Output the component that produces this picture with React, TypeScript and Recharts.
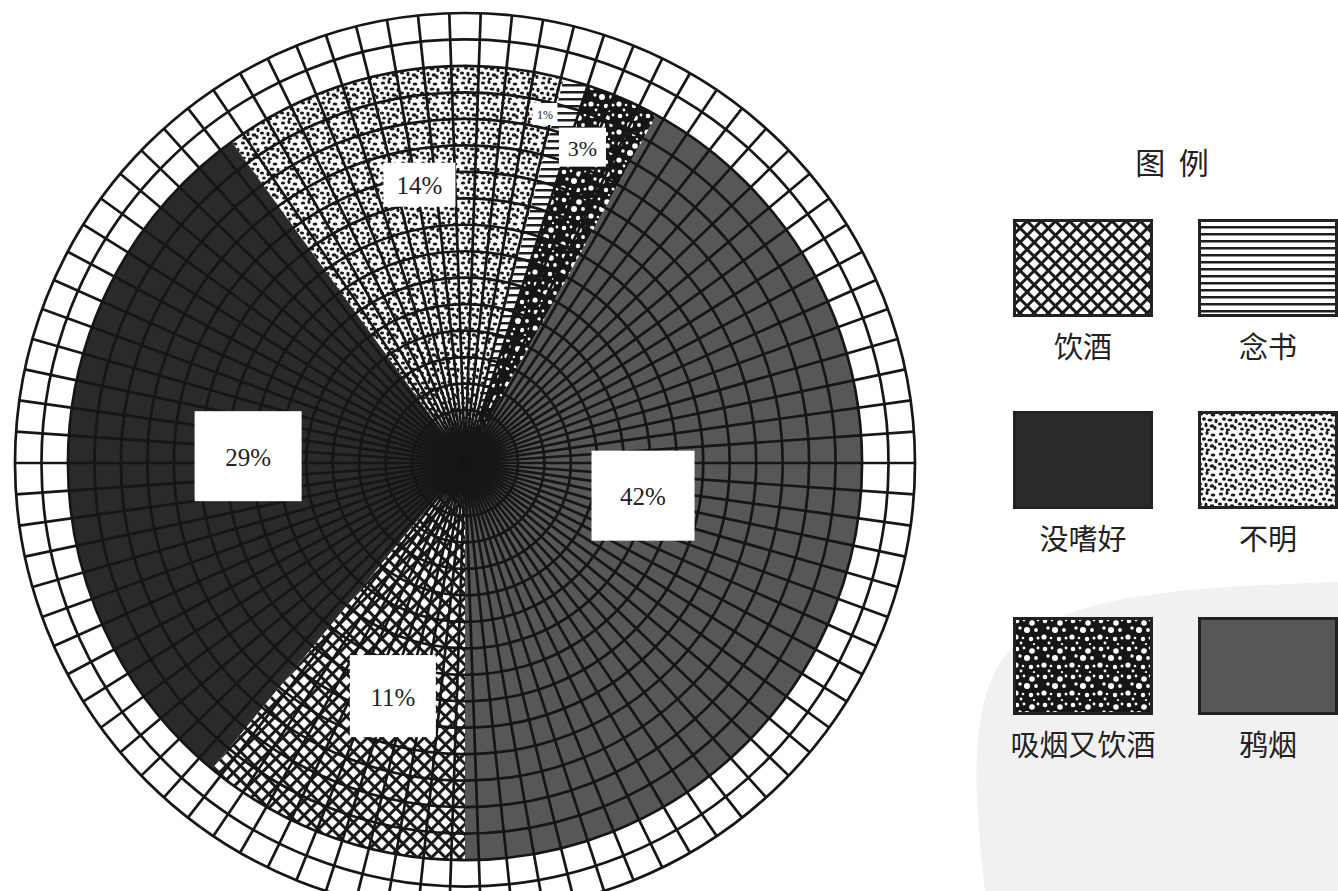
import { PieChart, Pie, Cell, PolarGrid, Legend } from 'recharts';

// 嗜好分布（%）
const categories = ['鸦烟', '吸烟又饮酒', '念书', '不明', '没嗜好', '饮酒'];
const shares = [42, 3, 1, 14, 29, 11];
const legendOrder = ['饮酒', '念书', '没嗜好', '不明', '吸烟又饮酒', '鸦烟'];

const data = categories.map((name, i) => ({ name, value: shares[i] }));

const fills: { [key: string]: string } = {
  '鸦烟': '#575757',
  '吸烟又饮酒': 'url(#pat-bubbles)',
  '念书': 'url(#pat-lines)',
  '不明': 'url(#pat-speckle)',
  '没嗜好': '#2a2a2a',
  '饮酒': 'url(#pat-cross)',
};

// label boxes: radius from centre, angle nudge, box size, font size
const labelBoxes: { [key: string]: { r: number; da: number; w: number; h: number; fs: number } } = {
  '鸦烟': { r: 181, da: 4, w: 103, h: 90, fs: 25 },
  '吸烟又饮酒': { r: 337, da: 3, w: 47, h: 39, fs: 22 },
  '念书': { r: 358, da: 3.3, w: 25, h: 22, fs: 12 },
  '不明': { r: 282, da: -1.5, w: 72, h: 44, fs: 25 },
  '没嗜好': { r: 217, da: 0, w: 107, h: 90, fs: 25 },
  '饮酒': { r: 244, da: 2.6, w: 86, h: 82, fs: 25 },
};

const CX = 465;
const CY = 463;
const PIE_R = 397;
const RING_R = 450;
const RADIAN = Math.PI / 180;

// polar grid: spokes every 4 degrees, rings every 1/17 of the radius
const GRID_ANGLES = Array.from({ length: 90 }, (_, i) => i * 4);
const GRID_RADII = Array.from({ length: 17 }, (_, i) => (RING_R * (i + 1)) / 17);

const renderLabel = (props: any) => {
  const { cx, cy, midAngle, name, value } = props;
  const s = labelBoxes[name];
  const a = (midAngle + s.da) * RADIAN;
  const x = cx + s.r * Math.cos(a);
  const y = cy - s.r * Math.sin(a);
  return (
    <g key={name}>
      <rect x={x - s.w / 2} y={y - s.h / 2} width={s.w} height={s.h} fill="#fff" />
      <text
        x={x}
        y={y + 1}
        textAnchor="middle"
        dominantBaseline="central"
        fontSize={s.fs}
        fontFamily="'Liberation Serif', 'Times New Roman', serif"
        fill="#222"
        stroke="none"
      >
        {value}%
      </text>
    </g>
  );
};

const SW = 140;
const SH = 98;
const colX = [13, 198];
const rowY = [79, 271, 477];

const renderLegend = () => (
  <div style={{ position: 'relative', width: 338, height: 640, fontFamily: "'Noto Sans CJK SC', sans-serif", color: '#222' }}>
    <div style={{ position: 'absolute', left: 0, width: 344, top: 2, textAlign: 'center', fontSize: 30, lineHeight: '38px' }}>
      图&nbsp;&nbsp;例
    </div>
    {legendOrder.map((name, i) => {
      const x = colX[i % 2];
      const y = rowY[Math.floor(i / 2)];
      return (
        <div key={name}>
          <svg style={{ position: 'absolute', left: x, top: y }} width={SW} height={SH}>
            <rect x={1.5} y={1.5} width={SW - 3} height={SH - 3} fill={fills[name]} stroke="#222" strokeWidth={3} />
          </svg>
          <div
            style={{
              position: 'absolute',
              left: x - 40,
              width: SW + 80,
              top: y + SH + 8,
              textAlign: 'center',
              fontSize: 29,
              lineHeight: '40px',
            }}
          >
            {name}
          </div>
        </div>
      );
    })}
  </div>
);

export default function App() {
  return (
    <div style={{ position: 'absolute', left: 0, top: 0, width: 1338, height: 891, background: '#fff', overflow: 'hidden' }}>
      <PieChart
        width={1338}
        height={891}
        cx={CX}
        cy={CY}
        innerRadius={0}
        outerRadius={RING_R}
        margin={{ top: 0, right: 0, bottom: 0, left: 0 }}
      >
        <defs>
          <pattern id="pat-lines" patternUnits="userSpaceOnUse" width={8} height={7}>
            <rect width={8} height={7} fill="#fff" />
            <rect y={0} width={8} height={2.5} fill="#1e1e1e" />
          </pattern>
          <pattern id="pat-cross" patternUnits="userSpaceOnUse" width={10} height={10} patternTransform="rotate(45)">
            <rect width={10} height={10} fill="#fff" />
            <rect width={10} height={3} fill="#1a1a1a" />
            <rect width={3} height={10} fill="#1a1a1a" />
          </pattern>
          <pattern id="pat-speckle" patternUnits="userSpaceOnUse" width={20} height={20}>
            <rect width={20} height={20} fill="#fff" />
            <g fill="#1a1a1a">
              <ellipse cx={3} cy={3} rx={2.2} ry={1.5} />
              <ellipse cx={9} cy={2} rx={1.6} ry={2.1} />
              <ellipse cx={15} cy={4} rx={2.4} ry={1.6} />
              <ellipse cx={6} cy={8} rx={2} ry={1.8} />
              <ellipse cx={12} cy={9} rx={2.5} ry={1.6} />
              <ellipse cx={18} cy={10} rx={1.6} ry={2.3} />
              <ellipse cx={2} cy={13} rx={2.1} ry={1.6} />
              <ellipse cx={8} cy={14} rx={1.6} ry={2.2} />
              <ellipse cx={14} cy={15} rx={2.4} ry={1.7} />
              <ellipse cx={4} cy={18} rx={1.9} ry={1.5} />
              <ellipse cx={10} cy={19} rx={2} ry={1.4} />
              <ellipse cx={17} cy={17} rx={1.6} ry={2} />
            </g>
          </pattern>
          <pattern id="pat-bubbles" patternUnits="userSpaceOnUse" width={28} height={28}>
            <rect width={28} height={28} fill="#161616" />
            <g fill="#fff">
              <circle cx={4} cy={4} r={2.3} />
              <circle cx={11} cy={3} r={1.4} />
              <circle cx={19} cy={6} r={2.8} />
              <circle cx={25} cy={3} r={1.4} />
              <circle cx={7} cy={11} r={1.7} />
              <circle cx={14} cy={13} r={3} />
              <circle cx={23} cy={13} r={1.9} />
              <circle cx={3} cy={20} r={2.6} />
              <circle cx={10} cy={21} r={1.3} />
              <circle cx={18} cy={22} r={2.2} />
              <circle cx={25} cy={21} r={1.5} />
              <circle cx={8} cy={26} r={1.4} />
              <circle cx={21} cy={27} r={1.1} />
            </g>
          </pattern>
        </defs>
        {/* faint scan watermark behind the legend */}
        <path d="M 985 891 C 975 800 965 700 1010 650 C 1060 600 1150 588 1338 582 L 1338 891 Z" fill="#f1f1f1" />
        <Pie
          data={data}
          dataKey="value"
          nameKey="name"
          cx={CX}
          cy={CY}
          outerRadius={PIE_R}
          startAngle={-90}
          endAngle={270}
          stroke="none"
          isAnimationActive={false}
        >
          {data.map((entry) => (
            <Cell key={entry.name} fill={fills[entry.name]} />
          ))}
        </Pie>
        <PolarGrid
          gridType="circle"
          polarAngles={GRID_ANGLES}
          polarRadius={GRID_RADII}
          stroke="#161616"
          strokeWidth={2.7}
          strokeOpacity={1}
          zIndex={500}
        />
        <Pie
          data={data}
          dataKey="value"
          nameKey="name"
          cx={CX}
          cy={CY}
          outerRadius={PIE_R}
          startAngle={-90}
          endAngle={270}
          fill="none"
          stroke="none"
          label={renderLabel}
          labelLine={false}
          legendType="none"
          isAnimationActive={false}
        />
        <Legend
          layout="vertical"
          align="right"
          verticalAlign="top"
          content={renderLegend}
          wrapperStyle={{ left: 1000, top: 140, right: 'auto', width: 338 }}
        />
      </PieChart>
    </div>
  );
}
